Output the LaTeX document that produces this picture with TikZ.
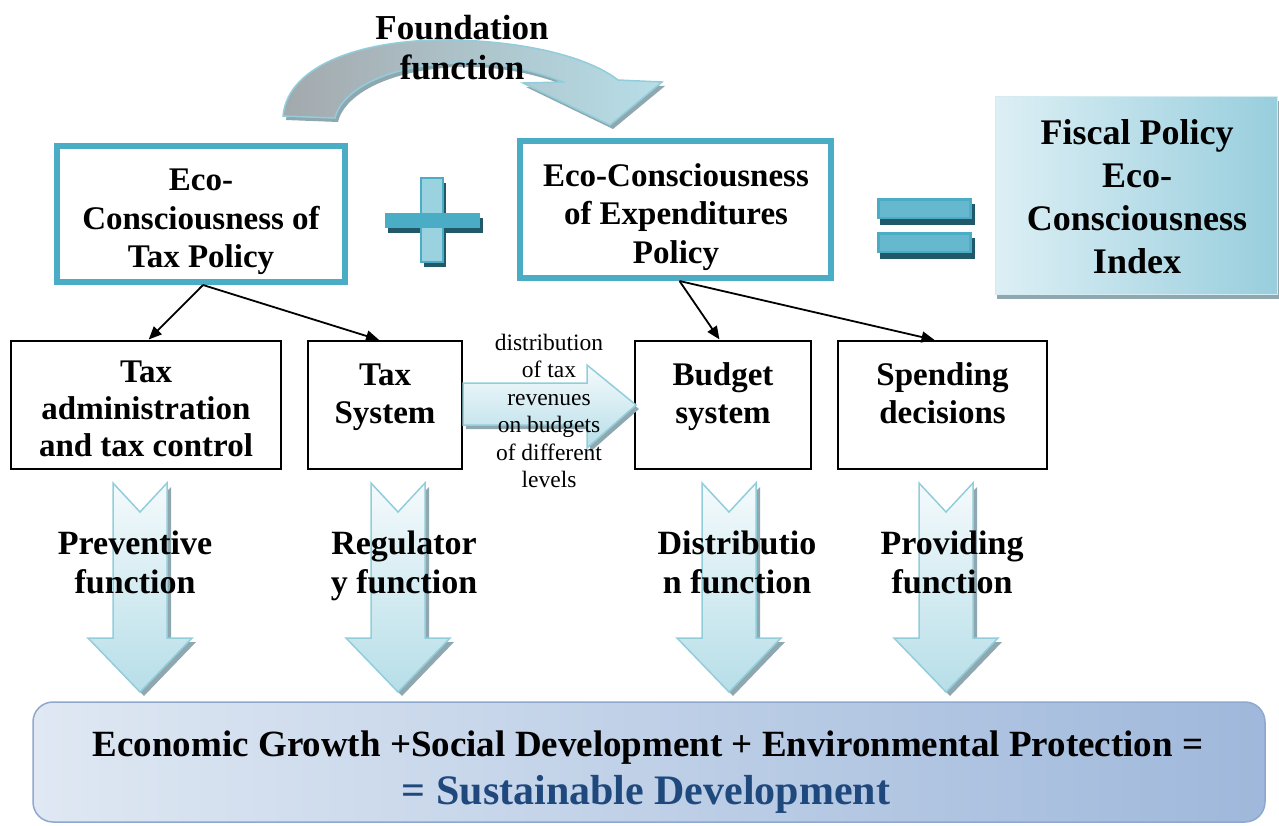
\documentclass[tikz,border=0pt]{standalone}
\usepackage{fontspec}
\setmainfont{Liberation Serif}
\usetikzlibrary{arrows.meta}
\definecolor{teal1}{HTML}{4BACC6}
\definecolor{tealdark}{HTML}{215968}
\definecolor{tealline}{HTML}{92CDDC}
\definecolor{tealfill}{HTML}{B7DEE8}
\definecolor{tealpale}{HTML}{F4FAFC}
\definecolor{teallight}{HTML}{9AD2E0}
\definecolor{shadowgray}{HTML}{8FA8B0}
\definecolor{sdblue}{HTML}{1F497D}
\definecolor{fisclight}{HTML}{DDEFF5}
\definecolor{fiscdark}{HTML}{98CEDD}
\definecolor{botlight}{HTML}{DFE8F3}
\definecolor{botdark}{HTML}{9FB8DB}
\definecolor{botline}{HTML}{8EA8CE}
\definecolor{fgray}{HTML}{A3A9AD}
\begin{document}
\begin{tikzpicture}[x=1pt,y=-1pt,
  midtxt/.style={font=\bfseries\fontsize{33}{38.5}\selectfont, align=center, inner sep=0pt},
  functxt/.style={font=\bfseries\fontsize{34}{39}\selectfont, align=center, inner sep=0pt},
  ecobox/.style={draw=teal1, line width=6pt, inner sep=0pt},
  subbox/.style={draw=black, line width=1.6pt, inner sep=0pt},
  conn/.style={line width=1.8pt, -{Triangle[length=13pt,width=11pt]}, shorten >=1pt},
  blockarrow/.style={draw=tealline, line width=1.5pt, top color=tealpale, bottom color=tealfill},
]
\useasboundingbox (0,0) rectangle (1279,825);

% ---------- Foundation curved arrow ----------
\begin{scope}[shift={(3,4)}]
\fill[shadowgray] (283,116) .. controls (288,62) and (370,38) .. (455,40)
  .. controls (530,42) and (590,58) .. (618,80) -- (662,82) -- (610,125) -- (523,83) -- (563,82)
  .. controls (525,66) and (475,60) .. (440,64) .. controls (375,70) and (340,95) .. (335,118) -- cycle;
\end{scope}
\path[draw=tealline, line width=1.5pt, left color=fgray, middle color=tealpale, right color=tealfill]
  (283,116) .. controls (288,62) and (370,38) .. (455,40)
  .. controls (530,42) and (590,58) .. (618,80) -- (662,82) -- (610,125) -- (523,83) -- (563,82)
  .. controls (525,66) and (475,60) .. (440,64) .. controls (375,70) and (340,95) .. (335,118) -- cycle;
\node[font=\bfseries\fontsize{35}{40}\selectfont, align=center, inner sep=0pt] (found) at (462,48) {Foundation\\function};

% ---------- top boxes ----------
\node[ecobox, minimum width=288pt, minimum height=136pt] (tp) at (201,214) {};
\node[midtxt] (tpt) at (201,221.5) {\strut Eco-\\Consciousness of\\Tax Policy\strut};
\node[ecobox, minimum width=311pt, minimum height=137pt] (ep) at (675.5,209.5) {};
\node[midtxt] (ept) at (676,217) {\strut Eco-Consciousness\\of Expenditures\\Policy\strut};

% ---------- plus sign ----------
\begin{scope}[shift={(3,5)}]
\fill[tealdark] (421,178) rectangle (443,262);
\fill[tealdark] (385,213) rectangle (480,228);
\end{scope}
\path[draw=teal1, line width=2pt, top color=teallight, middle color=teal1, bottom color=teallight] (421,178) rectangle (443,262);
\fill[teal1] (385,213) rectangle (480,228);

% ---------- equals sign ----------
\foreach \ya/\yb in {198/219, 232/253}{
  \fill[tealdark] (880,\ya+6) rectangle (975,\yb+6);
  \fill[teal1] (877,\ya) rectangle (972,\yb);
  \path[top color=teal1!85!white, middle color=teallight, bottom color=teal1!85!white] (880,\ya+3) rectangle (969,\yb-3);
}

% ---------- Fiscal policy box ----------
\fill[shadowgray] (997,101) rectangle (1279,299);
\node[draw=tealfill!60, line width=1pt, left color=fisclight, right color=fiscdark, minimum width=282pt, minimum height=198pt, inner sep=0pt] (fp) at (1136,195) {};
\node[font=\bfseries\fontsize{36}{43}\selectfont, align=center, inner sep=0pt] (fpt) at (1137,197) {Fiscal Policy\\Eco-\\Consciousness\\Index};

% ---------- lower boxes ----------
\node[subbox, minimum width=270pt, minimum height=128pt] (ta) at (146,405) {};
\node[midtxt, font=\bfseries\fontsize{33}{37}\selectfont] (tat) at (146,412) {\strut Tax\\administration\\and tax control\strut};
\node[subbox, minimum width=154pt, minimum height=128pt] (ts) at (385,405) {};
\node[midtxt] (tst) at (385,397) {\strut Tax\\System\strut};
\node[subbox, minimum width=176pt, minimum height=128pt] (bs) at (723,405) {};
\node[midtxt] (bst) at (723,397) {\strut Budget\\system\strut};
\node[subbox, minimum width=209pt, minimum height=128pt] (sd) at (942.5,405) {};
\node[midtxt] (sdt) at (942.5,397) {\strut Spending\\decisions\strut};

% ---------- connectors ----------
\draw[conn] ([xshift=2pt]tp.south) -- ([xshift=2pt]ta.north);
\draw[conn] ([xshift=2pt]tp.south) -- ([xshift=-5pt]ts.north);
\draw[conn] ([xshift=4pt]ep.south) -- ([xshift=-3pt]bs.north);
\draw[conn] ([xshift=4pt]ep.south) -- ([xshift=-7pt]sd.north);

% ---------- horizontal block arrow ----------
\fill[shadowgray] (466,387) -- (590,387) -- (590,369) -- (639,409) -- (590,452) -- (590,429) -- (466,429) -- cycle;
\path[blockarrow] (463,383) -- (587,383) -- (587,365) -- (636,405) -- (587,448) -- (587,425) -- (463,425) -- cycle;
\node[font=\fontsize{23.5}{27.4}\selectfont, align=center, inner sep=0pt] (dist) at (549,411) {distribution\\of tax\\revenues\\on budgets\\of different\\levels};

% ---------- down block arrows ----------
\foreach \c/\nm in {140/a1, 398/a2, 729/a3, 946/a4}{
  \fill[shadowgray] (\c-23,487) -- (\c+4,516) -- (\c+31,487) -- (\c+31,642) -- (\c+56,642) -- (\c+4,696) -- (\c-48,642) -- (\c-23,642) -- cycle;
  \path[blockarrow] (\c-27,483) -- (\c,512) -- (\c+27,483) -- (\c+27,638) -- (\c+52,638) -- (\c,692) -- (\c-52,638) -- (\c-27,638) -- cycle;
}
\node[functxt] (f1) at (135,566) {\strut Preventive\\function\strut};
\node[functxt] (f2) at (404,566.5) {\strut Regulator\\y function\strut};
\node[functxt] (f3) at (737,566) {\strut Distributio\\n function\strut};
\node[functxt] (f4) at (952,566) {\strut Providing\\function\strut};

% ---------- bottom box ----------
\node[draw=botline, line width=1.5pt, rounded corners=20pt, left color=botlight, middle color=botlight!90!botdark, right color=botdark, minimum width=1232pt, minimum height=120pt, inner sep=0pt] (bot) at (649,762) {};
\node[font=\bfseries\fontsize{37}{42}\selectfont, inner sep=0pt] (bot1) at (648,748) {Economic Growth +Social Development + Environmental Protection =};
\node[font=\bfseries\fontsize{42}{46}\selectfont, text=sdblue, inner sep=0pt] (bot2) at (646,794) {= Sustainable Development};
\end{tikzpicture}
\end{document}
